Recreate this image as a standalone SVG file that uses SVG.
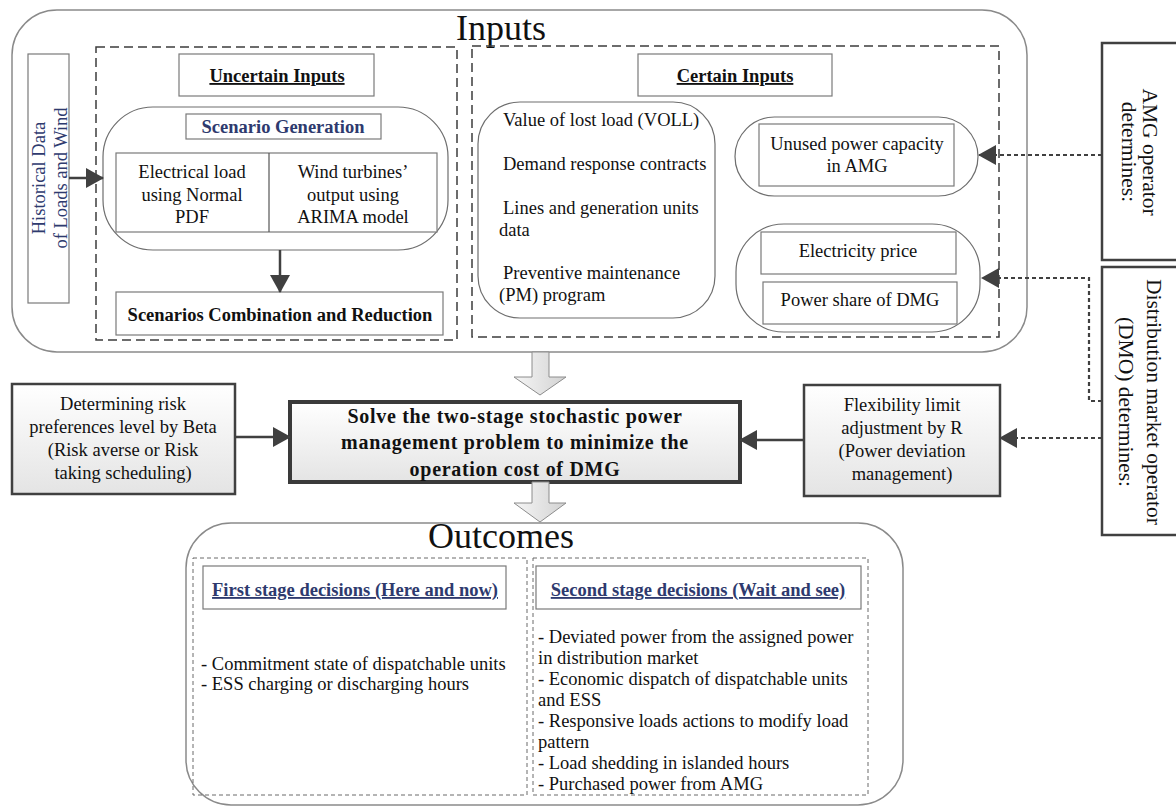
<svg xmlns="http://www.w3.org/2000/svg" width="1176" height="809" viewBox="0 0 1176 809">
<style>
text{font-family:"Liberation Serif","Times New Roman",serif;font-size:18.5px;fill:#111}
.c{text-anchor:middle}
.b{font-weight:bold}
.u{text-decoration:underline}
.blue{fill:#2e3a6e}
.big{font-size:36px}
.side{font-size:21.5px}
.thin{fill:#fff;stroke:#7a7a7a;stroke-width:1.2}
.rr{fill:none;stroke:#6e6e6e;stroke-width:1.2}
.outer{fill:none;stroke:#8a8a8a;stroke-width:1.5}
.dash{fill:none;stroke:#3c3c3c;stroke-width:1.5;stroke-dasharray:9,5}
.dash2{fill:none;stroke:#6a6a6a;stroke-width:1;stroke-dasharray:4,3}
.thick{fill:#fff;stroke:#404040;stroke-width:2.5}
.grad{fill:url(#g1);stroke:#404040;stroke-width:2.5}
.solid{fill:none;stroke:#404040;stroke-width:2.5}
.dot{fill:none;stroke:#404040;stroke-width:2.2;stroke-dasharray:4,3}
.blk{fill:url(#g2);stroke:#8c8c8c;stroke-width:1}
</style>
<defs>
<linearGradient id="g1" x1="0" y1="0" x2="0" y2="1"><stop offset="0" stop-color="#ffffff"/><stop offset="1" stop-color="#e4e4e4"/></linearGradient>
<linearGradient id="g2" x1="0" y1="0" x2="1" y2="0"><stop offset="0" stop-color="#f6f6f6"/><stop offset="1" stop-color="#d2d2d2"/></linearGradient>
<marker id="ah" viewBox="0 0 18 20" refX="17" refY="10" markerWidth="18" markerHeight="20" markerUnits="userSpaceOnUse" orient="auto"><path d="M0,0 L18,10 L0,20 z" fill="#404040"/></marker>
</defs>

<g id="inputs">
<rect class="outer" x="12" y="10" width="1015" height="342" rx="45"/>
<text class="big c" x="501" y="40">Inputs</text>
</g>

<g id="historical">
<rect class="thin" x="28" y="54" width="41" height="249"/>
<text class="c blue" transform="translate(45,178) rotate(-90)">Historical Data</text>
<text class="c blue" transform="translate(67,178) rotate(-90)">of Loads and Wind</text>
</g>

<g id="uncertain">
<rect class="dash" x="96" y="47" width="361" height="293"/>
<rect class="thin" x="179" y="54" width="195" height="42"/>
<text class="c b u" x="277" y="82">Uncertain Inputs</text>
</g>

<g id="scenario-generation">
<rect class="rr" x="103" y="107" width="345" height="143" rx="50"/>
<rect class="thin" x="186" y="114" width="195" height="25"/>
<text class="c b blue" x="283" y="133">Scenario Generation</text>
<rect class="thin" x="116" y="153" width="321" height="79"/>
<line x1="269" y1="153" x2="269" y2="232" stroke="#555" stroke-width="1.2"/>
<text class="c" x="192" y="178">Electrical  load</text>
<text class="c" x="192" y="201">using Normal</text>
<text class="c" x="192" y="223">PDF</text>
<text class="c" x="353" y="178">Wind turbines’</text>
<text class="c" x="353" y="201">output using</text>
<text class="c" x="353" y="223">ARIMA model</text>
</g>

<g id="scenario-reduction">
<rect class="thin" x="116" y="292" width="327" height="43"/>
<text class="c b" x="280" y="321">Scenarios Combination and Reduction</text>
</g>

<g id="certain">
<rect class="dash" x="472" y="46" width="527" height="291"/>
<rect class="thin" x="638" y="54" width="194" height="42"/>
<text class="c b u" x="735" y="82">Certain Inputs</text>
</g>

<g id="certain-list">
<rect class="rr" x="478" y="102" width="237" height="216" rx="42"/>
<text x="503" y="126">Value of lost load (VOLL)</text>
<text x="503" y="170">Demand response contracts</text>
<text x="503" y="214">Lines and generation units</text>
<text x="499" y="236">data</text>
<text x="503" y="279">Preventive maintenance</text>
<text x="499" y="301">(PM) program</text>
</g>

<g id="unused-capacity">
<rect class="rr" x="735" y="117" width="243" height="79" rx="39.5"/>
<rect class="thin" x="759" y="124" width="195" height="62"/>
<text class="c" x="857" y="150">Unused power capacity</text>
<text class="c" x="857" y="172">in AMG</text>
</g>

<g id="price-share">
<rect class="rr" x="736" y="224" width="244" height="108" rx="48"/>
<rect class="thin" x="761" y="232" width="195" height="42"/>
<text class="c" x="858" y="257">Electricity price</text>
<rect class="thin" x="763" y="282" width="194" height="42"/>
<text class="c" x="860" y="306">Power share of DMG</text>
</g>

<g id="amg-operator">
<rect class="thick" x="1102" y="43" width="80" height="217"/>
<text class="c side" transform="translate(1143,152) rotate(90)">AMG operator</text>
<text class="c side" transform="translate(1122,152) rotate(90)">determines:</text>
</g>

<g id="dmo">
<rect class="thick" x="1102" y="267" width="80" height="268"/>
<text class="c side" transform="translate(1147,402) rotate(90)">Distribution market operator</text>
<text class="c side" transform="translate(1119,402) rotate(90)">(DMO) determines:</text>
</g>

<g id="risk">
<rect class="grad" x="12" y="384" width="223" height="110"/>
<text class="c" x="123" y="410">Determining  risk</text>
<text class="c" x="123" y="433">preferences level by Beta</text>
<text class="c" x="123" y="456">(Risk averse or Risk</text>
<text class="c" x="123" y="479">taking scheduling)</text>
</g>

<g id="solve">
<rect fill="url(#g1)" stroke="#3a3a3a" stroke-width="4" x="290" y="402" width="450" height="80"/>
<text class="c b" style="font-size:20px;letter-spacing:0.7px" x="515" y="423">Solve the two-stage stochastic power</text>
<text class="c b" style="font-size:20px;letter-spacing:0.7px" x="515" y="449">management problem to minimize the</text>
<text class="c b" style="font-size:20px;letter-spacing:0.7px" x="515" y="476">operation cost of DMG</text>
</g>

<g id="flexibility">
<rect class="grad" x="804" y="385" width="196" height="111"/>
<text class="c" x="902" y="411">Flexibility limit</text>
<text class="c" x="902" y="434">adjustment by R</text>
<text class="c" x="902" y="457">(Power deviation</text>
<text class="c" x="902" y="480">management)</text>
</g>

<g id="outcomes">
<rect class="outer" x="186" y="523" width="717" height="282" rx="45"/>
<text class="big c" x="501" y="548">Outcomes</text>
</g>

<g id="first-stage">
<rect class="dash2" x="193" y="558" width="334" height="237"/>
<rect class="thin" x="203" y="566" width="303" height="43"/>
<text class="c b u blue" x="355" y="596">First stage decisions (Here and now)</text>
<text x="201" y="670">- Commitment state of  dispatchable units</text>
<text x="201" y="690">- ESS charging or discharging hours</text>
</g>

<g id="second-stage">
<rect class="dash2" x="533" y="558" width="335" height="237"/>
<rect class="thin" x="536" y="566" width="325" height="43"/>
<text class="c b u blue" x="698" y="596">Second stage decisions (Wait and see)</text>
<text x="538" y="643">- Deviated power from the assigned power</text>
<text x="538" y="664">in distribution market</text>
<text x="538" y="685">- Economic dispatch of dispatchable units</text>
<text x="538" y="706">and ESS</text>
<text x="538" y="727">- Responsive loads actions to modify load</text>
<text x="538" y="748">pattern</text>
<text x="538" y="769">- Load shedding in islanded hours</text>
<text x="538" y="790">- Purchased power from AMG</text>
</g>

<g id="connectors">
<line class="solid" x1="69" y1="178" x2="103" y2="178" marker-end="url(#ah)"/>
<line class="solid" x1="280" y1="250" x2="280" y2="292" marker-end="url(#ah)"/>
<line class="solid" x1="235" y1="437" x2="290" y2="437" marker-end="url(#ah)"/>
<line class="solid" x1="804" y1="440" x2="740" y2="440" marker-end="url(#ah)"/>
<path class="dot" d="M1102,155 H979" marker-end="url(#ah)"/>
<path class="dot" d="M1102,401 H1089 V278 H982" marker-end="url(#ah)"/>
<path class="dot" d="M1102,438 H1000" marker-end="url(#ah)"/>
<path class="blk" d="M532,352 H549 V377 H566 L540,395 L514,377 H532 Z"/>
<path class="blk" d="M532,482 H549 V503 H566 L540,522 L514,503 H532 Z"/>
</g>
</svg>
